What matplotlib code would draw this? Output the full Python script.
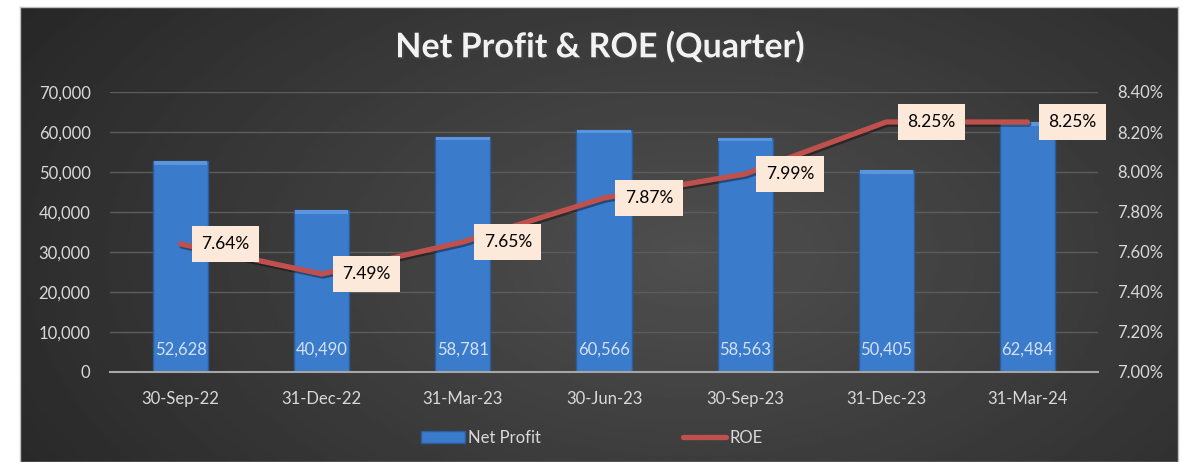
import numpy as np
import matplotlib
matplotlib.use("Agg")
import matplotlib.pyplot as plt
from matplotlib.patches import Rectangle
from matplotlib.lines import Line2D
from matplotlib.ticker import FuncFormatter, MultipleLocator
import matplotlib.patheffects as pe

plt.rcParams['font.family'] = ['Lato', 'DejaVu Sans']

# -------------------- data --------------------
quarters = ['30-Sep-22', '31-Dec-22', '31-Mar-23', '30-Jun-23', '30-Sep-23', '31-Dec-23', '31-Mar-24']
net_profit = [52628, 40490, 58781, 60566, 58563, 50405, 62484]
roe = [7.64, 7.49, 7.65, 7.87, 7.99, 8.25, 8.25]

W, H = 1183, 462
fig = plt.figure(figsize=(W / 100, H / 100), dpi=100)
fig.patch.set_facecolor('white')

# -------------------- dark gradient background box --------------------
bg = fig.add_axes([20 / W, 0, 1158 / W, 455 / H])
yy, xx = np.mgrid[0:1:200j, 0:1:400j]
r = np.sqrt(((xx - 0.58) / 0.75) ** 2 + ((yy - 0.55) / 1.1) ** 2)
shade = np.clip(0.31 - 0.17 * r, 0.15, 0.31)
bg.imshow(shade, cmap='gray', vmin=0, vmax=1, aspect='auto', extent=[0, 1, 0, 1], zorder=0)
bg.set_xlim(0, 1)
bg.set_ylim(0, 1)
bg.set_xticks([])
bg.set_yticks([])
for s in bg.spines.values():
    s.set_color('#bfbfbf')
    s.set_linewidth(1)

# -------------------- main axes --------------------
ax = fig.add_axes([110 / W, 1 - 372 / H, 988 / W, 280 / H])
ax.patch.set_alpha(0)
x = np.arange(len(quarters))

bar_w = 0.39
ax.bar(x, net_profit, width=bar_w, color='#3b7bcc', edgecolor='#2b5c9c', linewidth=1, zorder=2)
# subtle bevel on top of each bar
ax.bar(x, [900] * len(x), bottom=np.array(net_profit) - 900, width=bar_w * 0.97,
       color='#5b95de', edgecolor='none', zorder=3)

for xi, v in zip(x, net_profit):
    ax.annotate(f'{v:,}', (xi, 0), xytext=(0, 16), textcoords='offset points',
                ha='center', va='center', fontsize=12, color='#d5e1f0', zorder=4)

ax.set_xlim(-0.5, len(x) - 0.5)
ax.set_ylim(0, 70000)
ax.yaxis.set_major_locator(MultipleLocator(10000))
ax.yaxis.set_major_formatter(FuncFormatter(lambda v, p: f'{int(v):,}'))
ax.set_xticks(x)
ax.set_xticklabels(quarters)
ax.tick_params(axis='both', length=0, colors='#d9d9d9', labelsize=12)
ax.tick_params(axis='x', pad=14)
ax.tick_params(axis='y', pad=14)
ax.grid(axis='y', color='#5c5c5c', linewidth=1, zorder=0)
ax.set_axisbelow(True)
for s in ['top', 'right', 'left']:
    ax.spines[s].set_visible(False)
ax.spines['bottom'].set_color('#a6a6a6')
ax.spines['bottom'].set_linewidth(1.5)

# -------------------- ROE on secondary axis --------------------
ax2 = ax.twinx()
ax2.plot(x, roe, color='#c0504d', linewidth=3.8, solid_capstyle='round', zorder=5,
         path_effects=[pe.SimpleLineShadow(offset=(1, -1.5), alpha=0.4), pe.Normal()])
ax2.set_ylim(7.0, 8.4)
ax2.yaxis.set_major_locator(MultipleLocator(0.2))
ax2.yaxis.set_major_formatter(FuncFormatter(lambda v, p: f'{v:.2f}%'))
ax2.tick_params(axis='y', length=0, colors='#d9d9d9', labelsize=12, pad=14)
for s in ax2.spines.values():
    s.set_visible(False)

for xi, v in zip(x, roe):
    ax2.annotate(f'{v:.2f}%', (xi, v), xytext=(15, 0), textcoords='offset points',
                 ha='left', va='center', fontsize=12.5, color='black', zorder=6,
                 bbox=dict(boxstyle='square,pad=0.55', fc='#fde9d9', ec='none'))

# -------------------- title --------------------
fig.text(600 / W, 1 - 47 / H, 'Net Profit & ROE (Quarter)', ha='center', va='center',
         fontsize=24.5, fontweight='bold', color='#f2f2f2',
         path_effects=[pe.withSimplePatchShadow(offset=(1.5, -1.5), alpha=0.6)])

# -------------------- legend --------------------
handles = [Rectangle((0, 0), 1, 1, fc='#3b7bcc', ec='#2b5c9c'),
           Line2D([0], [0], color='#c0504d', linewidth=3.8, solid_capstyle='round')]
leg = fig.legend(handles, ['Net Profit', 'ROE'], loc='center', bbox_to_anchor=(592 / W, 1 - 438 / H),
                 ncol=2, frameon=False, fontsize=12, handlelength=2.6, handletextpad=0.2,
                 columnspacing=8.5)
for t in leg.get_texts():
    t.set_color('#d9d9d9')

fig.savefig('out.png', dpi=100)
